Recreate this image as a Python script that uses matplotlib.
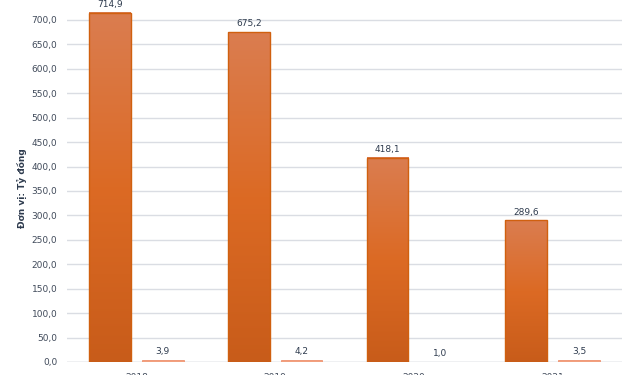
import matplotlib
matplotlib.use("Agg")
from matplotlib import pyplot as plt
import numpy as np

years = ["2018", "2019", "2020", "2021"]
big_vals = [714.9, 675.2, 418.1, 289.6]
small_vals = [3.9, 4.2, 1.0, 3.5]
yticks = [0, 50, 100, 150, 200, 250, 300, 350, 400, 450, 500, 550, 600, 650, 700, 750]

def vn(v):
    return f"{v:.1f}".replace(".", ",")

fig = plt.figure(figsize=(6.29, 3.75), dpi=100)
ax = fig.add_axes([67 / 629, 13 / 375, 555 / 629, 366.5 / 375])

x = np.arange(len(years))
w = 0.30
off = 0.19

bars = ax.bar(x - off, big_vals, w, color="none", edgecolor="#D0600F", linewidth=1.0, zorder=3)
small = ax.bar(x + off, small_vals, w, color="#F2A07E", edgecolor="#EE9270", linewidth=0.6, zorder=3)

# gradient fill for the big bars (light top, saturated middle, darker bottom)
t = np.linspace(0, 1, 256)
stops = [0, 0.5, 1]
cols = np.array([[0xDA, 0x7D, 0x50], [0xDC, 0x6A, 0x24], [0xC8, 0x5C, 0x1A]]) / 255
img = np.stack([np.interp(t, stops, cols[:, c]) for c in range(3)], axis=-1)[:, None, :]
for b in bars:
    x0, h, bw = b.get_x(), b.get_height(), b.get_width()
    ax.imshow(img, extent=[x0, x0 + bw, 0, h], aspect="auto", zorder=2, origin="upper")

for xi, v in zip(x - off, big_vals):
    ax.text(xi, v + 8, vn(v), ha="center", va="bottom", fontsize=6.5, color="#2E3B4E")
for xi, v in zip(x + off, small_vals):
    ax.text(xi, v + 8, vn(v), ha="center", va="bottom", fontsize=6.5, color="#2E3B4E")

ax.set_xlim(-0.5, len(years) - 0.5)
ax.set_ylim(0, 750)
ax.set_yticks(yticks)
ax.set_yticklabels([vn(t) for t in yticks], fontsize=6.5, color="#404A5A")
ax.set_xticks(x)
ax.set_xticklabels(years, fontsize=6.5, color="#404A5A")
ax.tick_params(axis="y", length=0, pad=7)
ax.tick_params(axis="x", length=0, pad=8)
ax.grid(axis="y", color="#DADDE3", linewidth=1.0, zorder=0)
ax.set_axisbelow(True)
for s in ax.spines.values():
    s.set_visible(False)
ax.axhline(0, color="#D0D4DA", linewidth=1.0, zorder=1)

fig.text(22 / 629, 1 - 188 / 375, "Đơn vị: Tỷ đồng", rotation=90, ha="center", va="center",
         fontsize=6.5, fontweight="bold", color="#2E3B4E")

fig.savefig("out.png", dpi=100)
